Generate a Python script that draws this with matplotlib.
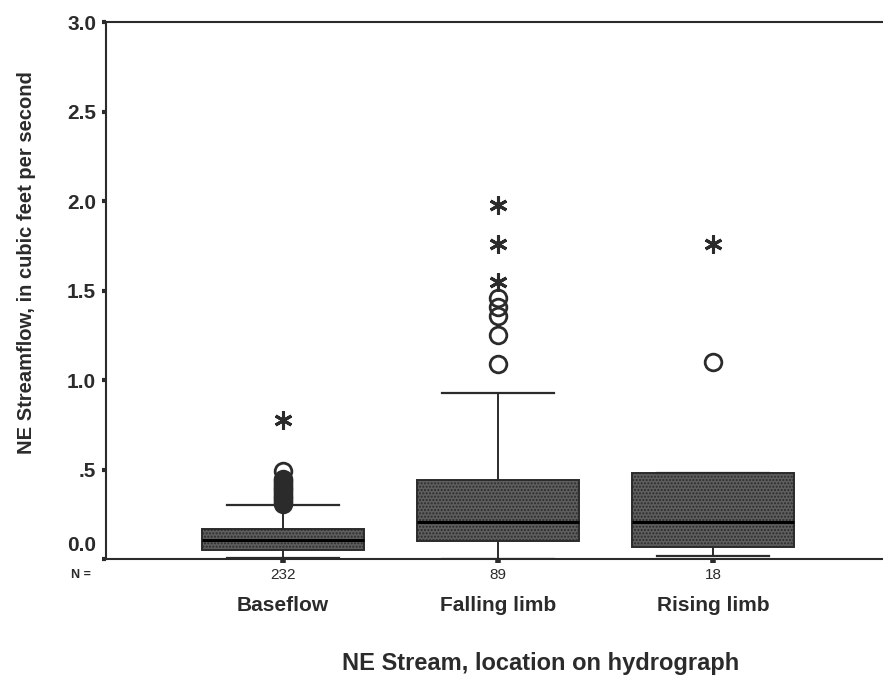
import matplotlib.pyplot as plt
from matplotlib.transforms import offset_copy

plt.rcParams['font.family'] = ['Liberation Sans', 'DejaVu Sans']
plt.rcParams['hatch.color'] = '#8a8a8a'

groups = ['Baseflow', 'Falling limb', 'Rising limb']
counts = [232, 89, 18]

# five-number summaries, cfs
whislo = [0.005, 0.0, 0.02]
q1 = [0.05, 0.10, 0.07]
med = [0.11, 0.21, 0.21]
q3 = [0.167, 0.44, 0.48]
whishi = [0.30, 0.93, 0.48]

# outliers (o) and extremes (*)
outliers = [
    [0.31, 0.32, 0.33, 0.34, 0.35, 0.36, 0.37, 0.38, 0.39, 0.40, 0.41, 0.42, 0.43, 0.44, 0.45, 0.49],
    [1.09, 1.25, 1.36, 1.41, 1.46],
    [1.10],
]
extremes = [
    [0.78],
    [1.55, 1.76, 1.98],
    [1.76],
]

yticks = [0, 0.5, 1.0, 1.5, 2.0, 2.5, 3.0]
ytick_labels = ['0.0', '.5', '1.0', '1.5', '2.0', '2.5', '3.0']

ink = '#2b2b2b'

fig = plt.figure(figsize=(8.83, 6.77), dpi=100)
ax = fig.add_axes([0.120, 0.174, 0.880, 0.7935])

stats = []
for i in range(len(groups)):
    stats.append({'whislo': whislo[i], 'q1': q1[i], 'med': med[i],
                  'q3': q3[i], 'whishi': whishi[i], 'fliers': []})

pos = [1, 2, 3]
ax.bxp(stats, positions=pos, widths=0.75, patch_artist=True, showfliers=False,
       boxprops=dict(facecolor='#5e5e5e', edgecolor=ink, linewidth=1.4, hatch='.....'),
       medianprops=dict(color='black', linewidth=2.2),
       whiskerprops=dict(color=ink, linewidth=1.4),
       capprops=dict(color=ink, linewidth=1.6), capwidths=0.52)

for p, vals in zip(pos, outliers):
    ax.plot([p] * len(vals), vals, 'o', ms=12, mfc='none', mec=ink, mew=2)
for p, vals in zip(pos, extremes):
    ax.plot([p] * len(vals), vals, marker=(6, 2, 0), ls='none', ms=13, mec=ink, mew=2.2)

ax.set_xlim(0.177, 3.79)
ax.set_ylim(0, 3.0)
ax.set_yticks(yticks)
# the 0.0 label is drawn by hand, a little above its tick
ax.set_yticklabels([''] + ytick_labels[1:], fontsize=15, fontweight='bold', color=ink)
ax.tick_params(axis='y', direction='out', length=3, width=3, color=ink, pad=4)
lift = offset_copy(ax.get_yaxis_transform(), fig=fig, x=-7, y=10, units='points')
ax.text(0, yticks[0], ytick_labels[0], transform=lift, ha='right', va='center',
        fontsize=15, fontweight='bold', color=ink)

ax.set_xticks(pos)
ax.set_xticklabels([])
ax.tick_params(axis='x', direction='out', length=3, width=4, color=ink)

for side in ['left', 'bottom', 'top']:
    ax.spines[side].set_linewidth(1.5)
    ax.spines[side].set_color(ink)
ax.spines['right'].set_visible(False)

tr = ax.get_xaxis_transform()
for p, n, g in zip(pos, counts, groups):
    ax.text(p, -0.030, str(n), transform=tr, ha='center', va='center', fontsize=11, color=ink)
    ax.text(p, -0.087, g, transform=tr, ha='center', va='center', fontsize=15,
            fontweight='bold', color=ink)
ax.text(-0.032, -0.030, 'N =', transform=ax.transAxes, ha='center', va='center',
        fontsize=9, fontweight='bold', color=ink)

ax.set_xlabel('NE Stream, location on hydrograph', fontsize=17, fontweight='bold', color=ink)
ax.xaxis.set_label_coords(0.559, -0.194)
ax.xaxis.label.set_va('center')
ax.set_ylabel('NE Streamflow, in cubic feet per second', fontsize=14.5, fontweight='bold', color=ink)
ax.yaxis.set_label_coords(-0.102, 0.553)
ax.yaxis.label.set_va('center')

fig.savefig('out.png', dpi=100)
